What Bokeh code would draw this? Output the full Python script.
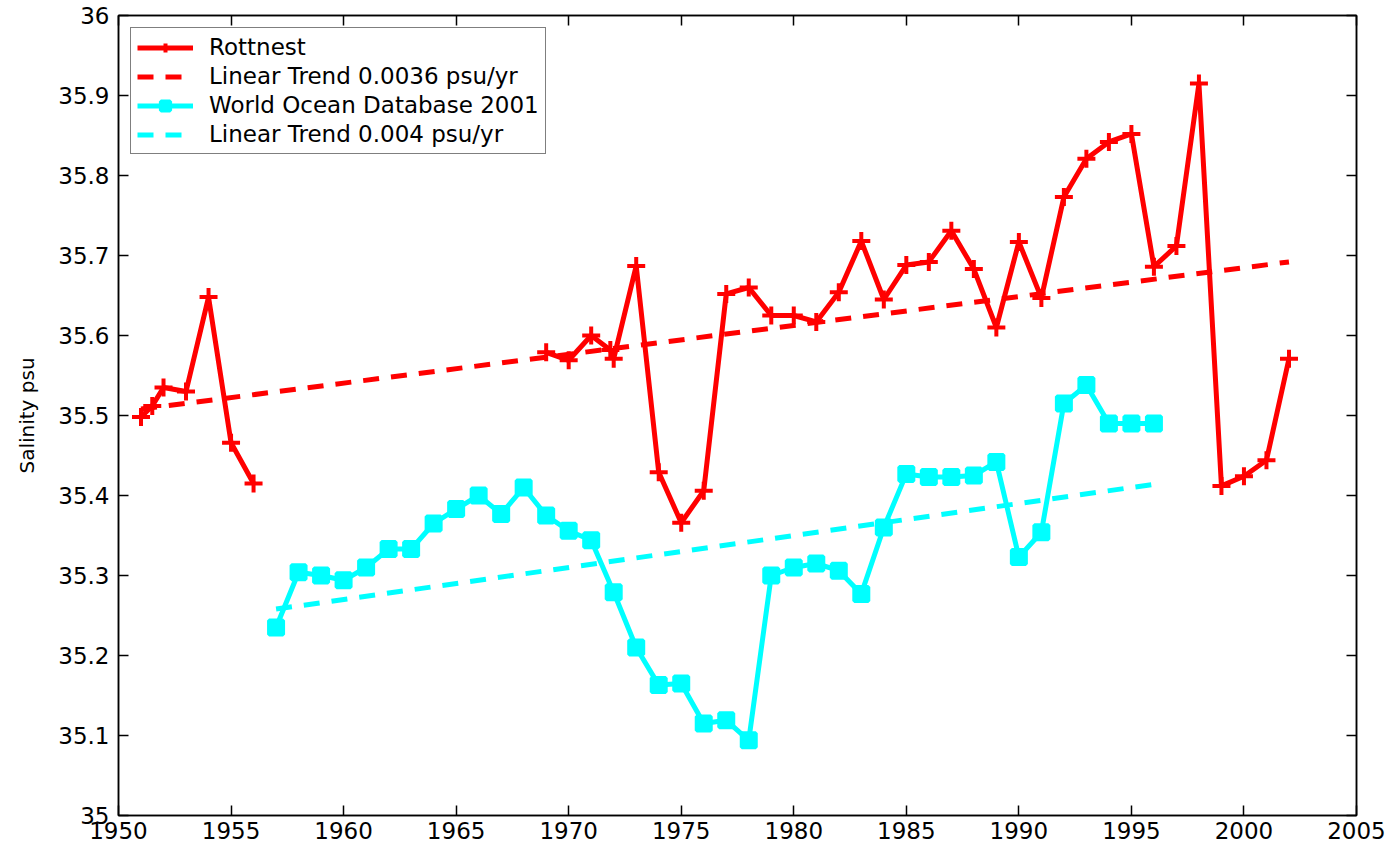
from bokeh.plotting import figure
from bokeh.models import (LinearAxis, FixedTicker, PrintfTickFormatter, Legend,
                          LegendItem, Range1d)
from bokeh.embed import file_html
from bokeh.resources import INLINE

# Rottnest annual mean salinity (psu); NaN separates the 1956-1969 gap
rott_years = [1951, 1951.5, 1952, 1953, 1954, 1955, 1956, 1962.5,
              1969, 1970, 1971, 1971.85, 1972, 1973, 1974, 1975, 1976, 1977,
              1978, 1979, 1980, 1981, 1982, 1983, 1984, 1985, 1986, 1987,
              1988, 1989, 1990, 1991, 1992, 1993, 1994, 1995, 1996, 1997,
              1998, 1999, 2000, 2001, 2002]
rott_sal = [35.498, 35.512, 35.535, 35.530, 35.648, 35.466, 35.415, float("nan"),
            35.579, 35.569, 35.600, 35.582, 35.571, 35.687, 35.429, 35.366,
            35.406, 35.652, 35.660, 35.625, 35.625, 35.617, 35.654, 35.718,
            35.645, 35.688, 35.692, 35.731, 35.683, 35.610, 35.717, 35.647,
            35.773, 35.821, 35.842, 35.852, 35.686, 35.712, 35.915, 35.412,
            35.424, 35.444, 35.571]

# World Ocean Database 2001 salinity (psu)
wod_years = list(range(1957, 1997))
wod_sal = [35.235, 35.304, 35.300, 35.294, 35.310, 35.333, 35.333, 35.365,
           35.383, 35.400, 35.377, 35.410, 35.375, 35.356, 35.344, 35.279,
           35.210, 35.163, 35.165, 35.115, 35.119, 35.094, 35.300, 35.310,
           35.315, 35.306, 35.277, 35.360, 35.427, 35.423, 35.423, 35.425,
           35.442, 35.323, 35.354, 35.515, 35.538, 35.490, 35.490, 35.490]

# Linear trend end points
rott_trend_years = [1951, 2002]
rott_trend_sal = [35.508, 35.692]
wod_trend_years = [1957, 1996]
wod_trend_sal = [35.258, 35.414]

x_ticks = [1950, 1955, 1960, 1965, 1970, 1975, 1980, 1985, 1990, 1995, 2000, 2005]
y_ticks = [35.0, 35.1, 35.2, 35.3, 35.4, 35.5, 35.6, 35.7, 35.8, 35.9, 36.0]

RED = "#ff0000"
CYAN = "#00ffff"
FONT = "DejaVu Sans"

p = figure(frame_width=1238, frame_height=800,
           x_range=Range1d(1950, 2005), y_range=Range1d(35, 36),
           output_backend="svg", toolbar_location=None,
           min_border_left=118, min_border_right=35,
           min_border_top=15, min_border_bottom=33,
           background_fill_color="white", border_fill_color="white")
p.xgrid.visible = False
p.ygrid.visible = False
p.outline_line_color = "black"
p.outline_line_width = 1.5

# extra axes carrying inward ticks along the top and right edges
p.add_layout(LinearAxis(), "above")
p.add_layout(LinearAxis(), "right")

for ax in p.xaxis:
    ax.ticker = FixedTicker(ticks=x_ticks)
for ax in p.yaxis:
    ax.ticker = FixedTicker(ticks=y_ticks)
    ax.formatter = PrintfTickFormatter(format="%g")

for ax in p.xaxis + p.yaxis:
    ax.axis_line_color = "black"
    ax.axis_line_width = 1.5
    ax.major_tick_line_color = "black"
    ax.major_tick_line_width = 1.5
    ax.major_tick_in = 10
    ax.major_tick_out = 0
    ax.minor_tick_line_color = None
    ax.major_label_text_font = FONT
    ax.major_label_text_font_size = "23px"
    ax.major_label_text_color = "black"

# top and right axes show ticks only
for ax in (p.above[0], p.right[0]):
    ax.major_label_text_color = None
    ax.major_label_text_font_size = "1px"
    ax.major_label_standoff = 0

p.below[0].major_label_standoff = 6
p.left[0].major_label_standoff = 9
p.left[0].axis_label = "Salinity psu"
p.left[0].axis_label_text_font = FONT
p.left[0].axis_label_text_font_size = "20px"
p.left[0].axis_label_text_font_style = "normal"
p.left[0].axis_label_text_color = "black"
p.left[0].axis_label_standoff = 16

# trend lines
rt = p.line(rott_trend_years, rott_trend_sal, line_color=RED, line_width=5,
            line_dash="16 12")
wt = p.line(wod_trend_years, wod_trend_sal, line_color=CYAN, line_width=5,
            line_dash="16 12")

# observed series
wl = p.line(wod_years, wod_sal, line_color=CYAN, line_width=5)
ws = p.scatter(wod_years, wod_sal, marker="square", size=14,
               fill_color=CYAN, line_color=CYAN, line_width=4)
rl = p.line(rott_years, rott_sal, line_color=RED, line_width=5)
rs = p.scatter(rott_years, rott_sal, marker="cross", size=18,
               line_color=RED, line_width=4)

legend = Legend(items=[
    LegendItem(label="Rottnest", renderers=[rl, rs]),
    LegendItem(label="Linear Trend 0.0036 psu/yr", renderers=[rt]),
    LegendItem(label="World Ocean Database 2001", renderers=[wl, ws]),
    LegendItem(label="Linear Trend 0.004 psu/yr", renderers=[wt]),
], location="top_left")
legend.margin = 12
legend.padding = 6
legend.spacing = 3
legend.glyph_width = 56
legend.glyph_height = 23
legend.label_height = 23
legend.label_standoff = 16
legend.label_text_font = FONT
legend.label_text_font_size = "23px"
legend.label_text_color = "black"
legend.border_line_color = "black"
legend.border_line_width = 1.5
legend.background_fill_color = "white"
legend.background_fill_alpha = 1.0
p.add_layout(legend)

open("out.html", "w").write(file_html(p, INLINE))
